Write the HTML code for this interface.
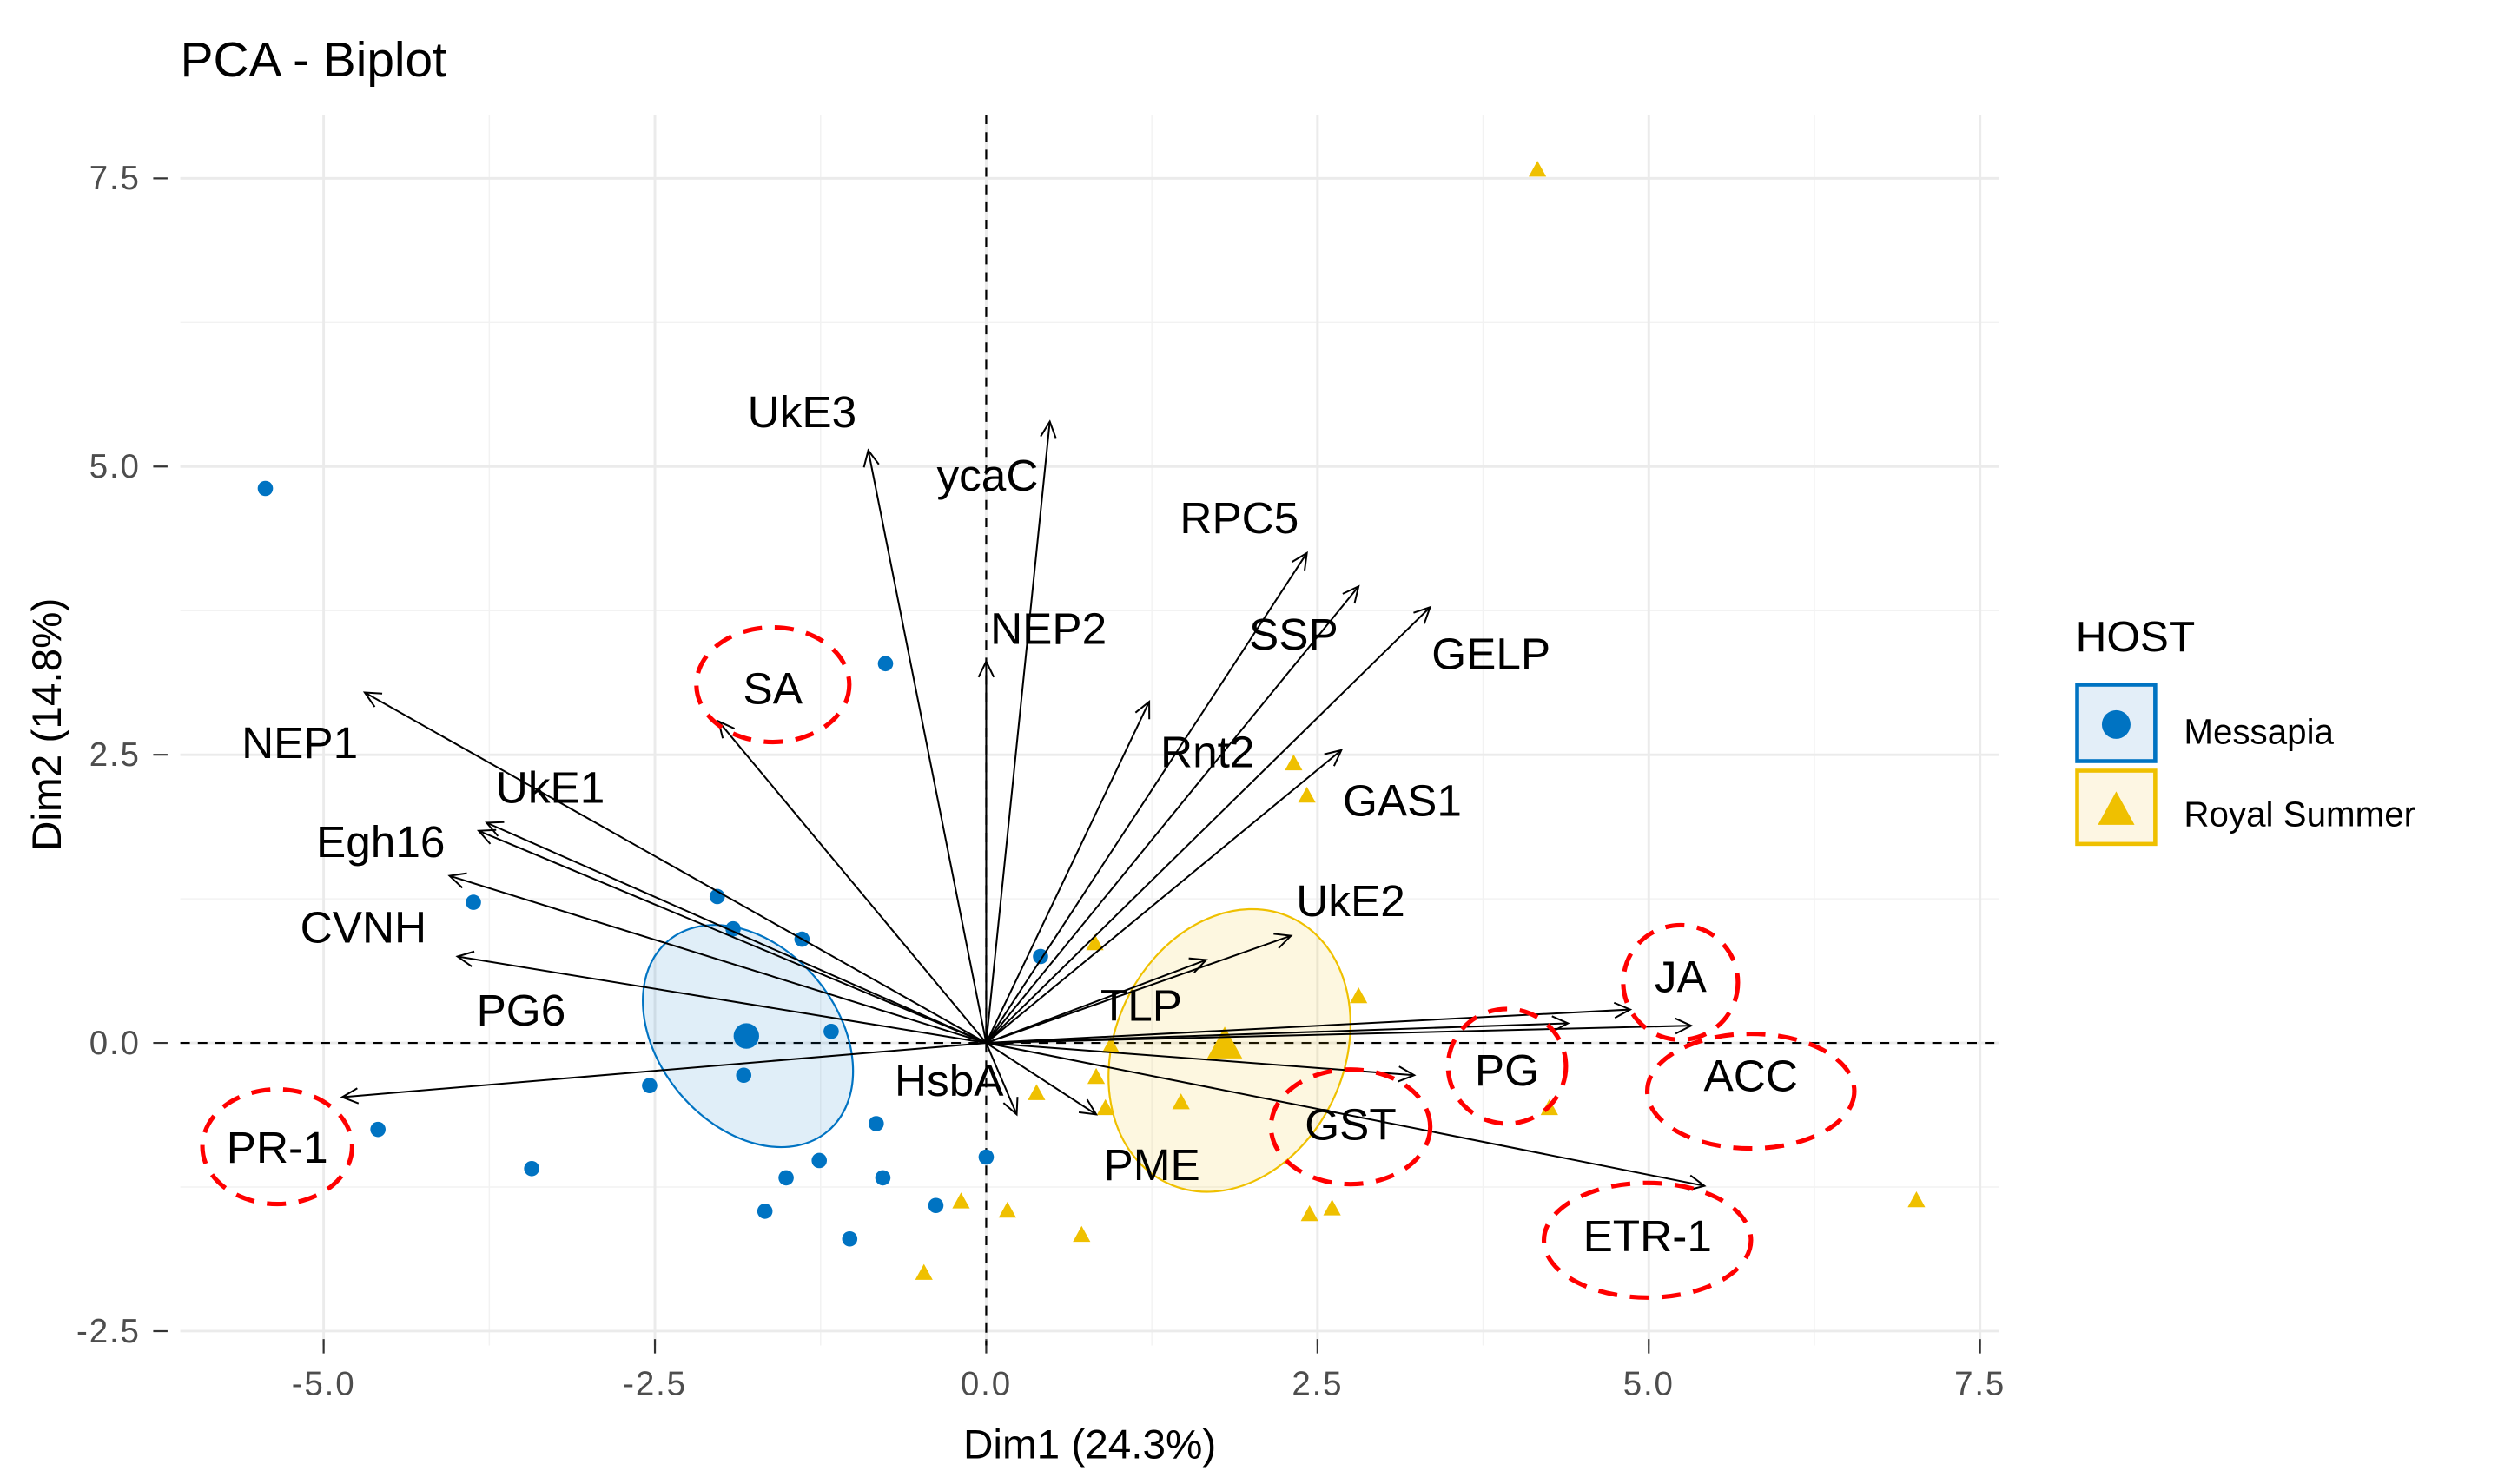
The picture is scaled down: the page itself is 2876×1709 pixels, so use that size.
<!DOCTYPE html>
<html><head><meta charset="utf-8"><style>
html,body{margin:0;padding:0;background:#fff;}
svg{display:block;font-family:"Liberation Sans",Arial,sans-serif;}
</style></head><body>
<svg id="chart" width="2876" height="1709" viewBox="0 0 1568 932" xmlns="http://www.w3.org/2000/svg">
<text x="113" y="48" font-size="31" fill="#000">PCA - Biplot</text>
<g id="grid"></g>
<g id="axes"></g>
<g id="ellipses"></g>
<g id="points"></g>
<g id="arrows"></g>
<g id="labels"></g>
<g id="legend">
<text x="1303" y="409" font-size="27" fill="#000">HOST</text>
<g>
<rect x="1304" y="430" width="49" height="48" fill="#e3eef8" stroke="#0073C2" stroke-width="2.5"/>
<circle cx="1328.5" cy="455" r="9" fill="#0073C2"/>
<text x="1371" y="467" font-size="22" fill="#000">Messapia</text>
</g>
<g>
<rect x="1304" y="484" width="49" height="46" fill="#fdf6e3" stroke="#EFC000" stroke-width="2.5"/>
<polygon points="1328.5,497 1340,518 1317,518" fill="#EFC000"/>
<text x="1371" y="519" font-size="22" fill="#000">Royal Summer</text>
</g>
</g>
</svg>
<script>
const xTicks=[-5,-2.5,0,2.5,5,7.5];
const xTickLabels=["-5.0","-2.5","0.0","2.5","5.0","7.5"];
const yTicks=[-2.5,0,2.5,5,7.5];
const yTickLabels=["-2.5","0.0","2.5","5.0","7.5"];
const xMinor=[-3.75,-1.25,1.25,3.75,6.25];
const yMinor=[-1.25,1.25,3.75,6.25];
const messX=[-5.44,-0.76,-3.87,-2.03,-1.91,-1.39,0.41,-1.17,-1.83,-2.54,-4.59,-3.43,-0.83,-1.26,-1.51,-0.78,-1.67,0.00,-0.38,-1.03];
const messY=[4.81,3.29,1.22,1.27,0.99,0.90,0.75,0.10,-0.28,-0.37,-0.75,-1.09,-0.70,-1.02,-1.17,-1.17,-1.46,-0.99,-1.41,-1.70];
const royX=[4.16,2.32,2.42,0.82,2.81,0.94,0.83,0.90,1.47,0.38,4.25,-0.19,0.16,0.72,2.44,2.61,-0.47,7.02];
const royY=[7.57,2.42,2.14,0.86,0.40,-0.03,-0.30,-0.57,-0.52,-0.44,-0.57,-1.38,-1.46,-1.67,-1.49,-1.44,-2.00,-1.37];
const groupMeanX=[-1.81,1.80];
const groupMeanY=[0.06,-0.01];
const varNames=["NEP1","UkE1","Egh16","CVNH","PG6","PR-1","SA","UkE3","ycaC","NEP2","Rnt2","RPC5","SSP","GELP","GAS1","UkE2","TLP","HsbA","PME","GST","PG","JA","ACC","ETR-1"];
const varX=[-4.69,-3.77,-3.83,-4.05,-3.99,-4.86,-2.02,-0.89,0.48,0,1.23,2.42,2.81,3.35,2.68,2.30,1.66,0.23,0.83,3.23,4.39,4.86,5.32,5.42];
const varY=[3.04,1.91,1.84,1.45,0.75,-0.47,2.79,5.14,5.39,3.31,2.96,4.25,3.96,3.78,2.54,0.93,0.72,-0.62,-0.62,-0.28,0.17,0.29,0.15,-1.24];
const labelX=[-5.18,-3.29,-4.57,-4.70,-3.51,-5.35,-1.61,-1.39,0.01,0.47,1.67,1.91,2.32,3.81,3.14,2.75,1.17,-0.28,1.25,2.75,3.93,5.24,5.77,4.99];
const labelY=[2.61,2.22,1.75,1.01,0.29,-0.90,3.08,5.48,4.93,3.60,2.53,4.56,3.55,3.38,2.11,1.24,0.33,-0.32,-1.05,-0.70,-0.23,0.58,-0.28,-1.67];
const highlighted=["SA","PR-1","JA","PG","ACC","GST","ETR-1"];
const hlRx=[48,47,36,37,65,50,65];
const hlDy=[-2,0,4,-2,10,2,3];

const NS="http://www.w3.org/2000/svg";
const X0=113,X1=1255,Y0=72,Y1=845;
function sx(v){return 619+83.2*v;}
function sy(v){return 655-72.4*v;}
function mk(tag,attrs,parent){const e=document.createElementNS(NS,tag);for(const k in attrs)e.setAttribute(k,attrs[k]);parent.appendChild(e);return e;}
const grid=document.getElementById('grid'),axes=document.getElementById('axes');
xMinor.forEach(v=>{const l=mk('line',{x1:sx(v),x2:sx(v),y1:Y0,y2:Y1,stroke:'#f2f2f2','stroke-width':0.8},grid);

});
yMinor.forEach(v=>{const l=mk('line',{x1:X0,x2:X1,y1:sy(v),y2:sy(v),stroke:'#f2f2f2','stroke-width':0.8},grid);

});
xTicks.forEach((v,i)=>{const l=mk('line',{x1:sx(v),x2:sx(v),y1:Y0,y2:Y1,stroke:'#ebebeb','stroke-width':1.6},grid);


const t=mk('line',{x1:sx(v),x2:sx(v),y1:Y1-4,y2:Y1+5,stroke:'#333','stroke-width':1.2},axes);


const tx=mk('text',{x:sx(v),y:876,'font-size':21,fill:'#4d4d4d','text-anchor':'middle','letter-spacing':1},axes);tx.textContent=xTickLabels[i];

});
yTicks.forEach((v,i)=>{const l=mk('line',{x1:X0,x2:X1,y1:sy(v),y2:sy(v),stroke:'#ebebeb','stroke-width':1.6},grid);


const t=mk('line',{x1:96,x2:105,y1:sy(v),y2:sy(v),stroke:'#333','stroke-width':1.2},axes);


const tx=mk('text',{x:88,y:sy(v)+7,'font-size':21,fill:'#4d4d4d','text-anchor':'end','letter-spacing':1},axes);tx.textContent=yTickLabels[i];

});
let t1=mk('text',{x:684,y:916,'font-size':26,fill:'#000','text-anchor':'middle'},axes);t1.textContent='Dim1 (24.3%)';


let t2=mk('text',{x:0,y:0,'font-size':26,fill:'#000','text-anchor':'middle',transform:'translate(38,455) rotate(-90)'},axes);t2.textContent='Dim2 (14.8%)';


let h=mk('line',{x1:X0,x2:X1,y1:sy(0),y2:sy(0),stroke:'#000','stroke-width':1.2,'stroke-dasharray':'6,5'},axes);


let v0=mk('line',{x1:sx(0),x2:sx(0),y1:Y0,y2:Y1,stroke:'#000','stroke-width':1.2,'stroke-dasharray':'6,5'},axes);



const ell=document.getElementById('ellipses');
let e1=mk('ellipse',{cx:sx(groupMeanX[0])+1,cy:sy(groupMeanY[0]),rx:78,ry:56,transform:`rotate(50 ${sx(groupMeanX[0])+1} ${sy(groupMeanY[0])})`,fill:'#0073C2','fill-opacity':0.12,stroke:'#0073C2','stroke-width':1.2},ell);


let e2=mk('ellipse',{cx:sx(groupMeanX[1])+3,cy:sy(groupMeanY[1])+4,rx:92,ry:72,transform:`rotate(-65 ${sx(groupMeanX[1])+3} ${sy(groupMeanY[1])+4})`,fill:'#EFC000','fill-opacity':0.12,stroke:'#EFC000','stroke-width':1.2},ell);



const pts=document.getElementById('points');
messX.forEach((v,i)=>{const c=mk('circle',{cx:sx(v),cy:sy(messY[i]),r:4.8,fill:'#0073C2'},pts);

});
royX.forEach((v,i)=>{const x=sx(v),y=sy(royY[i]);const p=mk('polygon',{points:`${x},${y-6} ${x+5.5},${y+4} ${x-5.5},${y+4}`,fill:'#EFC000'},pts);

});
let m1=mk('circle',{cx:sx(groupMeanX[0]),cy:sy(groupMeanY[0]),r:8,fill:'#0073C2'},pts);


{const x=sx(groupMeanX[1]),y=sy(groupMeanY[1]);let m2=mk('polygon',{points:`${x},${y-11} ${x+11},${y+9} ${x-11},${y+9}`,fill:'#EFC000'},pts);

}

const arr=document.getElementById('arrows'),lab=document.getElementById('labels');
const ox=sx(0),oy=sy(0);
varNames.forEach((n,i)=>{const x=sx(varX[i]),y=sy(varY[i]);
const g=mk('g',{},arr);


mk('line',{x1:ox,y1:oy,x2:x,y2:y,stroke:'#000','stroke-width':1.1},g);
const a=Math.atan2(y-oy,x-ox),L=11,s=0.45;
mk('polyline',{points:`${x-L*Math.cos(a-s)},${y-L*Math.sin(a-s)} ${x},${y} ${x-L*Math.cos(a+s)},${y-L*Math.sin(a+s)}`,fill:'none',stroke:'#000','stroke-width':1.1},g);
const lx=sx(labelX[i]),ly=sy(labelY[i]);
const t=mk('text',{x:lx,y:ly+10,'font-size':28,fill:'#000','text-anchor':'middle'},lab);t.textContent=n;


const hi=highlighted.indexOf(n);
if(hi>=0){
const c=mk('ellipse',{cx:lx,cy:ly+hlDy[hi],rx:hlRx[hi],ry:36,fill:'none',stroke:'#ff0000','stroke-width':2.8,'stroke-dasharray':'12,8'},lab);

}
});
</script>
</body></html>
